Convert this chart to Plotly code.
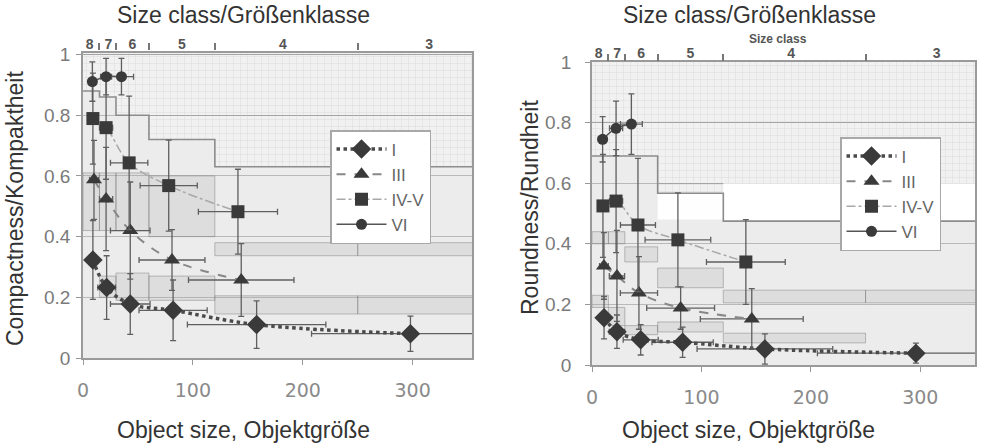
import plotly.graph_objects as go

# ---------------- data ----------------
CLASS_EDGES = [0, 15, 30, 60, 120, 250, 360]
CLASS_TICKS = [15, 30, 60, 120, 250]
CLASS_LABELS = ["8", "7", "6", "5", "4", "3"]
CLASS_LABEL_X = [6, 23, 45, 90, 182, 315]
X_TICKS = [0, 100, 200, 300]
Y_TICKS = [0, 0.2, 0.4, 0.6, 0.8, 1]
Y_TICKTEXT = ["0", "0.2", "0.4", "0.6", "0.8", "1"]
SERIES_NAMES = ["I", "III", "IV-V", "VI"]

# Compactness (left)
C_I_x = [9, 21.5, 43, 82, 158, 298]
C_I_y = [0.323, 0.232, 0.178, 0.157, 0.110, 0.080]
C_I_ey = [0.13, 0.105, 0.10, 0.10, 0.078, 0.058]
C_I_ex = [4, 8, 18, 31, 63, 90]
C_III_x = [10, 21, 43, 81, 144]
C_III_y = [0.587, 0.524, 0.42, 0.323, 0.257]
C_III_ey = [0.13, 0.17, 0.16, 0.10, 0.12]
C_III_ex = [4, 6, 18, 30, 48]
C_IVV_x = [9, 21, 42, 78, 141]
C_IVV_y = [0.789, 0.759, 0.643, 0.568, 0.482]
C_IVV_ey = [0.15, 0.17, 0.22, 0.15, 0.14]
C_IVV_ex = [4, 6, 17, 26, 36]
C_VI_x = [8.5, 21, 35]
C_VI_y = [0.911, 0.927, 0.927]
C_VI_ey = [0.065, 0.06, 0.06]
C_VI_ex = [3, 5, 11]

# Roundness (right)
R_I_x = [11, 22.8, 44.5, 82.8, 158, 296]
R_I_y = [0.156, 0.110, 0.083, 0.075, 0.053, 0.039]
R_I_ey = [0.07, 0.055, 0.05, 0.05, 0.05, 0.033]
R_I_ex = [4, 7, 16, 28, 62, 90]
R_III_x = [10.9, 22.8, 42.9, 81, 146]
R_III_y = [0.327, 0.294, 0.238, 0.188, 0.152]
R_III_ey = [0.11, 0.15, 0.12, 0.07, 0.10]
R_III_ex = [4, 7, 17, 31, 47]
R_IVV_x = [10, 22, 42, 78.5, 140.6]
R_IVV_y = [0.525, 0.541, 0.462, 0.413, 0.34]
R_IVV_ey = [0.17, 0.17, 0.22, 0.155, 0.14]
R_IVV_ex = [4, 6, 16, 30, 36]
R_VI_x = [9.7, 22, 36]
R_VI_y = [0.745, 0.781, 0.795]
R_VI_ey = [0.075, 0.09, 0.10]
R_VI_ex = [4, 6, 10]

# class threshold bands (per size class 8..3)
C_STEP = [0.88, 0.86, 0.80, 0.72, 0.63, 0.63]
C_MID_LOW = [0.42, 0.42, 0.42, 0.40, 0.337, 0.337]
C_MID_HIGH = [0.61, 0.61, 0.61, 0.60, 0.38, 0.38]
C_LOW_LOW = [None, 0.20, 0.19, 0.19, 0.145, 0.145]
C_LOW_HIGH = [None, 0.27, 0.28, 0.27, 0.205, 0.205]

R_STEP = [0.69, 0.69, 0.69, 0.567, 0.475, 0.475]
R_HATCH_LOW = [0.69, 0.69, 0.69, 0.567, 0.60, 0.60]
R_WHITE_LOW = [None, None, None, 0.48, 0.475, 0.475]
R_WHITE_HIGH = [None, None, None, 0.567, 0.60, 0.60]
R_MID_LOW = [0.40, 0.40, 0.34, 0.255, 0.205, 0.205]
R_MID_HIGH = [0.44, 0.44, 0.39, 0.32, 0.247, 0.247]
R_LOW_LOW = [0.19, 0.13, 0.10, 0.109, 0.073, None]
R_LOW_HIGH = [0.23, 0.19, 0.13, 0.142, 0.105, None]

# ---------------- helpers ----------------
centers = [(a + b) / 2 for a, b in zip(CLASS_EDGES[:-1], CLASS_EDGES[1:])]
widths = [b - a for a, b in zip(CLASS_EDGES[:-1], CLASS_EDGES[1:])]

fig = go.Figure()


def band(xa, ya, low, high, fill, line="rgba(120,120,120,0.45)", pattern=None):
    xs, bs, hs, ws = [], [], [], []
    for c, w, lo, hi in zip(centers, widths, low, high):
        if lo is None or hi is None:
            continue
        xs.append(c); bs.append(lo); hs.append(hi - lo); ws.append(w)
    marker = dict(color=fill, line=dict(color=line, width=1))
    if pattern:
        marker["pattern"] = pattern
    fig.add_trace(go.Bar(x=xs, y=hs, base=bs, width=ws, marker=marker,
                         xaxis=xa, yaxis=ya, showlegend=False, hoverinfo="skip"))


hatch = dict(shape="+", size=7, solidity=0.14, fgcolor="#c4c4c4",
             bgcolor="rgba(0,0,0,0)", fillmode="overlay")

styles = {
    "I": dict(symbol="diamond", size=15, dash="dot", lw=3.5, lc="#4a4a4a"),
    "III": dict(symbol="triangle-up", size=14, dash="dash", lw=2, lc="#888888"),
    "IV-V": dict(symbol="square", size=13, dash="dashdot", lw=1.5, lc="#a8a8a8"),
    "VI": dict(symbol="circle", size=11, dash="solid", lw=1.5, lc="#555555"),
}


def panel(xa, ya, leg, step, hatch_low, mid, low, white, series):
    top = [1.05] * 6
    band(xa, ya, [0] * 6, step, "rgba(225,225,225,0.35)", line="rgba(0,0,0,0)")
    band(xa, ya, hatch_low, top, "rgba(0,0,0,0)", line="rgba(0,0,0,0)", pattern=hatch)
    if white:
        band(xa, ya, white[0], white[1], "rgba(255,255,255,0.95)", line="rgba(0,0,0,0)")
    band(xa, ya, mid[0], mid[1], "rgba(170,170,170,0.22)")
    band(xa, ya, low[0], low[1], "rgba(170,170,170,0.22)")
    fig.add_trace(go.Scatter(x=CLASS_EDGES, y=step + [step[-1]], mode="lines",
                             line=dict(color="#8c8c8c", width=1.6, shape="hv"),
                             xaxis=xa, yaxis=ya, showlegend=False, hoverinfo="skip"))
    for name, (x, y, ex, ey) in zip(SERIES_NAMES, series):
        s = styles[name]
        fig.add_trace(go.Scatter(
            x=x, y=y, name=name, mode="lines+markers",
            line=dict(color=s["lc"], width=s["lw"], dash=s["dash"], shape="spline"),
            marker=dict(symbol=s["symbol"], size=s["size"], color="#3a3a3a"),
            error_y=dict(type="data", array=ey, color="#5f5f5f", thickness=1.3, width=3),
            error_x=dict(type="data", array=ex, color="#5f5f5f", thickness=1.3, width=3),
            xaxis=xa, yaxis=ya, legend=leg))


panel("x", "y", "legend", C_STEP, C_STEP,
      (C_MID_LOW, C_MID_HIGH), (C_LOW_LOW, C_LOW_HIGH), None,
      [(C_I_x, C_I_y, C_I_ex, C_I_ey), (C_III_x, C_III_y, C_III_ex, C_III_ey),
       (C_IVV_x, C_IVV_y, C_IVV_ex, C_IVV_ey), (C_VI_x, C_VI_y, C_VI_ex, C_VI_ey)])
panel("x2", "y2", "legend2", R_STEP, R_HATCH_LOW,
      (R_MID_LOW, R_MID_HIGH), (R_LOW_LOW, R_LOW_HIGH), (R_WHITE_LOW, R_WHITE_HIGH),
      [(R_I_x, R_I_y, R_I_ex, R_I_ey), (R_III_x, R_III_y, R_III_ex, R_III_ey),
       (R_IVV_x, R_IVV_y, R_IVV_ex, R_IVV_ey), (R_VI_x, R_VI_y, R_VI_ex, R_VI_ey)])

W, H = 981, 444
def px_x(p): return p / W
def px_y(p): return 1 - p / H

xcommon = dict(showline=True, mirror=True, linecolor="#9a9a9a", linewidth=1.5,
               ticks="outside", ticklen=5, tickcolor="#999", tickvals=X_TICKS,
               tickfont=dict(family="DejaVu Sans", size=19, color="#8a8a8a"),
               showgrid=False, zeroline=False, ticklabelstandoff=9, automargin=False)
ycommon = dict(showline=True, mirror=True, linecolor="#9a9a9a", linewidth=1.5,
               ticks="outside", ticklen=5, tickcolor="#999",
               tickvals=Y_TICKS, ticktext=Y_TICKTEXT,
               tickfont=dict(family="Liberation Sans", size=19, color="#7a7a7a"),
               showgrid=True, gridcolor="#a4a4a4", gridwidth=1.3, zeroline=False,
               automargin=False)
topticks = dict(side="top", tickvals=CLASS_TICKS, ticks="outside", ticklen=7,
                tickcolor="#777", tickwidth=1.5, showticklabels=False,
                showgrid=False, showline=False, zeroline=False, automargin=False)
toplabels = dict(side="top", tickvals=CLASS_LABEL_X, ticktext=CLASS_LABELS, ticks="",
                 tickfont=dict(family="Liberation Sans", size=14, color="#555", weight="bold"),
                 showgrid=False, showline=False, zeroline=False, automargin=False)

CX = [0, 354]
RX = [0, 350]
legend_common = dict(xanchor="left", yanchor="top", bgcolor="white",
                     bordercolor="#a8a8a8", borderwidth=1.5,
                     font=dict(family="Liberation Sans", size=17, color="#666"),
                     itemwidth=50, tracegroupgap=0, itemsizing="trace")
fig.update_layout(
    width=W, height=H, margin=dict(l=0, r=0, t=0, b=0, autoexpand=False),
    paper_bgcolor="white", plot_bgcolor="#f1f1f1", barmode="overlay",
    font=dict(family="Liberation Sans"),
    xaxis=dict(domain=[px_x(83), px_x(472)], range=CX, anchor="y", **xcommon),
    yaxis=dict(domain=[px_y(358), px_y(53)], range=[0, 1.005], anchor="x",
               ticklabelstandoff=2, **ycommon),
    xaxis2=dict(domain=[px_x(592), px_x(975)], range=RX, anchor="y2", **xcommon),
    yaxis2=dict(domain=[px_y(365), px_y(62)], range=[0, 1.0], anchor="x2",
                ticklabelstandoff=10, **ycommon),
    xaxis3=dict(overlaying="x", anchor="free", position=px_y(50), range=CX, **topticks),
    xaxis4=dict(overlaying="x2", anchor="y2", range=RX, **topticks),
    xaxis5=dict(overlaying="x", anchor="y", range=CX, **toplabels),
    xaxis6=dict(overlaying="x2", anchor="y2", range=RX, **toplabels),
    legend=dict(x=px_x(330), y=px_y(130), **legend_common),
    legend2=dict(x=px_x(840), y=px_y(137), **legend_common),
)

# dummy traces so overlay axes render
for xa in ["x3", "x4", "x5", "x6"]:
    ya = "y" if xa in ("x3", "x5") else "y2"
    fig.add_trace(go.Scatter(x=[None], y=[None], xaxis=xa, yaxis=ya,
                             showlegend=False, hoverinfo="skip"))

title_font = dict(family="Liberation Sans", size=23, color="#333", weight="normal")
ann = [
    dict(text="Size class/Größenklasse", x=px_x(243), y=px_y(15)),
    dict(text="Size class/Größenklasse", x=px_x(749), y=px_y(15)),
    dict(text="Object size, Objektgröße", x=px_x(243), y=px_y(430)),
    dict(text="Object size, Objektgröße", x=px_x(748), y=px_y(430)),
    dict(text="Compactness/Kompaktheit", x=px_x(15), y=px_y(209), textangle=-90),
    dict(text="Roundness/Rundheit", x=px_x(530), y=px_y(208), textangle=-90),
]
for a in ann:
    fig.add_annotation(xref="paper", yref="paper", showarrow=False,
                       xanchor="center", yanchor="middle", font=title_font, **a)
fig.add_annotation(text="Size class", xref="paper", yref="paper", x=px_x(778), y=px_y(39),
                   showarrow=False, xanchor="center", yanchor="middle",
                   font=dict(family="Liberation Sans", size=12, color="#555", weight="bold"))

fig.write_html("out.html")
